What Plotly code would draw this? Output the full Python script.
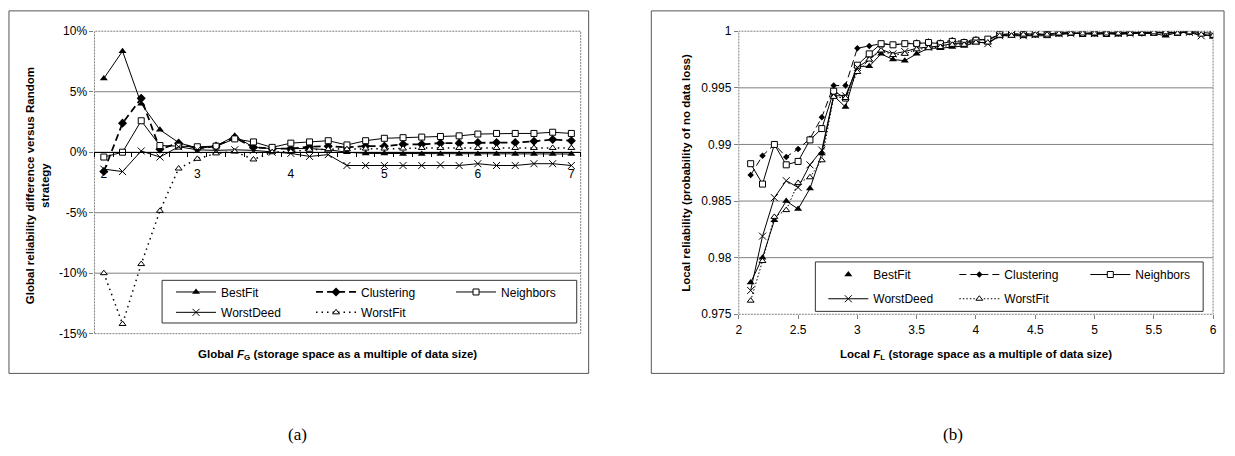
import plotly.graph_objects as go

# ---------------- data ----------------
global_f = [2.0, 2.2, 2.4, 2.6, 2.8, 3.0, 3.2, 3.4, 3.6, 3.8, 4.0, 4.2, 4.4,
            4.6, 4.8, 5.0, 5.2, 5.4, 5.6, 5.8, 6.0, 6.2, 6.4, 6.6, 6.8, 7.0]
g_bestfit = [6.1, 8.35, 4.0, 1.85, 0.8, 0.3, 0.5, 1.35, 0.4, 0.3, 0.3, 0.3, 0.2,
             0.0, -0.1, -0.1, -0.15, -0.15, -0.15, -0.15, -0.15, -0.15, -0.15, -0.15, -0.15, -0.15]
g_clustering = [-1.6, 2.4, 4.45, 0.25, 0.75, 0.3, 0.5, 1.2, 0.4, 0.3, 0.3, 0.45, 0.5,
                0.4, 0.5, 0.5, 0.65, 0.65, 0.75, 0.75, 0.8, 0.8, 0.8, 0.9, 1.05, 0.95]
g_neighbors = [-0.4, 0.0, 2.6, 0.55, 0.5, 0.45, 0.5, 1.1, 0.85, 0.4, 0.75, 0.85, 0.95,
               0.6, 0.95, 1.15, 1.2, 1.25, 1.3, 1.35, 1.5, 1.55, 1.55, 1.55, 1.65, 1.55]
g_worstdeed = [-1.4, -1.6, 0.1, -0.4, 0.45, 0.2, 0.15, 0.2, 0.15, 0.0, -0.1, -0.35, -0.2,
               -1.1, -1.1, -1.1, -1.1, -1.1, -1.05, -1.1, -0.95, -1.1, -1.1, -0.95, -0.95, -1.1]
g_worstfit = [-10.0, -14.2, -9.25, -4.85, -1.35, -0.55, -0.1, 0.05, -0.6, 0.0, 0.05, 0.2, 0.25,
              0.25, 0.3, 0.3, 0.3, 0.35, 0.35, 0.35, 0.35, 0.35, 0.35, 0.35, 0.35, 0.35]
g_yticks = [-15, -10, -5, 0, 5, 10]
g_yticklabels = ["-15%", "-10%", "-5%", "0%", "5%", "10%"]
g_xticks = [2, 3, 4, 5, 6, 7]
g_xticklabels = ["2", "3", "4", "5", "6", "7"]

local_f = [2.1, 2.2, 2.3, 2.4, 2.5, 2.6, 2.7, 2.8, 2.9, 3.0,
           3.1, 3.2, 3.3, 3.4, 3.5, 3.6, 3.7, 3.8, 3.9, 4.0,
           4.1, 4.2, 4.3, 4.4, 4.5, 4.6, 4.7, 4.8, 4.9, 5.0,
           5.1, 5.2, 5.3, 5.4, 5.5, 5.6, 5.7, 5.8, 5.9, 6.0]
l_bestfit = [0.9778, 0.9800, 0.9833, 0.9850, 0.9843, 0.9861, 0.9892, 0.9943, 0.9933, 0.9969,
             0.9969, 0.9980, 0.9975, 0.9974, 0.9980, 0.9985, 0.9985, 0.9986, 0.9987, 0.9990,
             0.9990, 0.9996, 0.9996, 0.9996, 0.9996, 0.9996, 0.9997, 0.9998, 0.9998, 0.9997,
             0.9998, 0.9997, 0.9998, 0.9998, 0.9998, 0.9996, 0.9999, 0.9999, 0.9998, 0.9995]
l_clustering = [0.9873, 0.9890, 0.9900, 0.9889, 0.9896, 0.9905, 0.9924, 0.9952, 0.9952, 0.9985,
                0.9987, 0.9989, 0.9988, 0.9989, 0.9990, 0.9991, 0.9990, 0.9992, 0.9991, 0.9993,
                0.9992, 0.9997, 0.9997, 0.9998, 0.9997, 0.9998, 0.9998, 0.9999, 0.9998, 0.9998,
                0.9999, 0.9998, 0.9999, 0.9998, 0.9999, 0.9999, 0.9999, 0.9999, 0.9999, 0.9997]
l_neighbors = [0.9883, 0.9865, 0.9900, 0.9882, 0.9885, 0.9904, 0.9914, 0.9947, 0.9941, 0.9970,
               0.9980, 0.9989, 0.9988, 0.9989, 0.9989, 0.9990, 0.9989, 0.9991, 0.9990, 0.9992,
               0.9993, 0.9997, 0.9998, 0.9997, 0.9998, 0.9997, 0.9999, 0.9999, 0.9998, 0.9999,
               0.9998, 0.9999, 0.9999, 0.9999, 0.9999, 0.9999, 0.9999, 1.0000, 0.9999, 0.9998]
l_worstdeed = [0.9771, 0.9819, 0.9853, 0.9868, 0.9862, 0.9882, 0.9895, 0.9943, 0.9943, 0.9968,
               0.9975, 0.9984, 0.9980, 0.9982, 0.9985, 0.9986, 0.9987, 0.9989, 0.9989, 0.9991,
               0.9989, 0.9996, 0.9997, 0.9996, 0.9997, 0.9997, 0.9998, 0.9998, 0.9998, 0.9998,
               0.9998, 0.9998, 0.9998, 0.9999, 0.9999, 0.9998, 0.9999, 0.9999, 0.9996, 0.9997]
l_worstfit = [0.9762, 0.9797, 0.9836, 0.9842, 0.9866, 0.9871, 0.9886, 0.9942, 0.9941, 0.9964,
              0.9975, 0.9983, 0.9979, 0.9980, 0.9984, 0.9985, 0.9986, 0.9988, 0.9988, 0.9990,
              0.9990, 0.9996, 0.9996, 0.9997, 0.9997, 0.9997, 0.9998, 0.9998, 0.9998, 0.9998,
              0.9998, 0.9998, 0.9998, 0.9998, 0.9999, 0.9999, 0.9998, 0.9999, 0.9997, 0.9996]
l_yticks = [0.975, 0.98, 0.985, 0.99, 0.995, 1.0]
l_yticklabels = ["0.975", "0.98", "0.985", "0.99", "0.995", "1"]
l_xticks = [2, 2.5, 3, 3.5, 4, 4.5, 5, 5.5, 6]
l_xticklabels = ["2", "2.5", "3", "3.5", "4", "4.5", "5", "5.5", "6"]

# ---------------- layout helpers ----------------
W, H = 1235, 456
def fx(p):
    return p / W
def fy(p):
    return 1 - p / H

FONT = "Liberation Sans, Arial, sans-serif"
BLACK = "black"
GRID = "#808080"

fig = go.Figure()

left_styles = {
    "BestFit": dict(line=dict(color=BLACK, width=1),
                    marker=dict(symbol="triangle-up", size=7, color=BLACK)),
    "Clustering": dict(line=dict(color=BLACK, width=1.8, dash="7px,4px"),
                       marker=dict(symbol="diamond", size=7, color=BLACK)),
    "Neighbors": dict(line=dict(color=BLACK, width=1),
                      marker=dict(symbol="square", size=6, color="white",
                                  line=dict(color=BLACK, width=1))),
    "WorstDeed": dict(line=dict(color=BLACK, width=1),
                      marker=dict(symbol="x-thin", size=7, color=BLACK,
                                  line=dict(color=BLACK, width=1))),
    "WorstFit": dict(line=dict(color=BLACK, width=1.5, dash="1.5px,4px"),
                     marker=dict(symbol="triangle-up", size=6, color="white",
                                 line=dict(color=BLACK, width=1))),
}
right_styles = {
    "BestFit": dict(line=dict(color=BLACK, width=1),
                    marker=dict(symbol="triangle-up", size=7, color=BLACK)),
    "Clustering": dict(line=dict(color=BLACK, width=1, dash="7px,4px"),
                       marker=dict(symbol="diamond", size=5, color=BLACK)),
    "Neighbors": dict(line=dict(color=BLACK, width=1),
                      marker=dict(symbol="square", size=6, color="white",
                                  line=dict(color=BLACK, width=1))),
    "WorstDeed": dict(line=dict(color=BLACK, width=1),
                      marker=dict(symbol="x-thin", size=7, color=BLACK,
                                  line=dict(color=BLACK, width=1))),
    "WorstFit": dict(line=dict(color=BLACK, width=1, dash="1.5px,2px"),
                     marker=dict(symbol="triangle-up", size=6, color="white",
                                 line=dict(color=BLACK, width=1))),
}

left_series = [("BestFit", g_bestfit, "legend"), ("Clustering", g_clustering, "legend"),
               ("Neighbors", g_neighbors, "legend"), ("WorstDeed", g_worstdeed, "legend2"),
               ("WorstFit", g_worstfit, "legend2")]
right_series = [("BestFit", l_bestfit, "legend3"), ("Clustering", l_clustering, "legend3"),
                ("Neighbors", l_neighbors, "legend3"), ("WorstDeed", l_worstdeed, "legend4"),
                ("WorstFit", l_worstfit, "legend4")]

for name, vals, lg in left_series:
    st = left_styles[name]
    fig.add_trace(go.Scatter(x=global_f, y=vals, name=name, mode="lines+markers",
                             line=st["line"], marker=st["marker"], legend=lg,
                             xaxis="x", yaxis="y"))

for name, vals, lg in right_series:
    st = right_styles[name]
    if name == "BestFit":
        fig.add_trace(go.Scatter(x=local_f, y=vals, name=name, mode="lines+markers",
                                 line=st["line"], marker=st["marker"], showlegend=False,
                                 xaxis="x2", yaxis="y2"))
        fig.add_trace(go.Scatter(x=[None], y=[None], name=name, mode="markers",
                                 marker=st["marker"], legend=lg, xaxis="x2", yaxis="y2"))
    else:
        fig.add_trace(go.Scatter(x=local_f, y=vals, name=name, mode="lines+markers",
                                 line=st["line"], marker=st["marker"], legend=lg,
                                 xaxis="x2", yaxis="y2"))

# plot area geometry (pixels)
L = dict(x0=92, x1=581, y0=25, y1=337)
R = dict(x0=740, x1=1217, y0=25, y1=317)
zero_pos = fy(L["y0"] + (L["y1"] - L["y0"]) * (10 / 25))

tickfont = dict(family=FONT, size=12, color=BLACK)

fig.update_layout(
    width=W, height=H,
    margin=dict(l=0, r=0, t=0, b=0),
    paper_bgcolor="white", plot_bgcolor="white",
    font=dict(family=FONT, size=12, color=BLACK),
    xaxis=dict(domain=[fx(L["x0"]), fx(L["x1"])], range=[1.9, 7.1],
               anchor="free", position=zero_pos,
               tickvals=g_xticks, ticktext=g_xticklabels, tickfont=tickfont,
               ticks="", ticklabelstandoff=10,
               minor=dict(ticks="outside", ticklen=4, tick0=1.9, dtick=0.2,
                          tickcolor=BLACK, showgrid=False),
               showline=True, linecolor=BLACK, linewidth=1,
               showgrid=False, zeroline=False),
    yaxis=dict(domain=[fy(L["y1"]), fy(L["y0"])], range=[-15, 10], anchor="x",
               tickvals=g_yticks, ticktext=g_yticklabels, tickfont=tickfont,
               ticks="outside", ticklen=4, tickcolor=GRID,
               showgrid=False, zeroline=False, showline=False),
    xaxis2=dict(domain=[fx(R["x0"]), fx(R["x1"])], range=[2, 6], anchor="y2",
                tickvals=l_xticks, ticktext=l_xticklabels, tickfont=tickfont,
                ticks="outside", ticklen=4, tickcolor=GRID,
                showgrid=False, zeroline=False, showline=False),
    yaxis2=dict(domain=[fy(R["y1"]), fy(R["y0"])], range=[0.975, 1.0], anchor="x2",
                tickvals=l_yticks, ticktext=l_yticklabels, tickfont=tickfont,
                ticks="outside", ticklen=4, tickcolor=GRID,
                showgrid=False, zeroline=False, showline=False),
    showlegend=True,
)

legend_common = dict(orientation="h", xanchor="left", yanchor="middle",
                     bgcolor="rgba(0,0,0,0)", borderwidth=0, itemwidth=40,
                     entrywidthmode="pixels", font=dict(family=FONT, size=12, color=BLACK),
                     itemclick=False, itemdoubleclick=False, traceorder="normal")
fig.update_layout(
    legend=dict(legend_common, x=fx(169), y=fy(294), entrywidth=85),
    legend2=dict(legend_common, x=fx(169), y=fy(315), entrywidth=85),
    legend3=dict(legend_common, x=fx(825), y=fy(276), entrywidth=76),
    legend4=dict(legend_common, x=fx(825), y=fy(301), entrywidth=76),
)

shapes = []
# outer frames
for (a, b, c, d) in [(6, 4, 589, 378), (652, 4, 1228, 378)]:
    shapes.append(dict(type="rect", xref="paper", yref="paper",
                       x0=fx(a), x1=fx(c), y0=fy(d), y1=fy(b),
                       line=dict(color="#555555", width=1), layer="below"))
# interior gridlines
for t in g_yticks[1:-1]:
    shapes.append(dict(type="line", xref="x domain", yref="y", x0=0, x1=1, y0=t, y1=t,
                       line=dict(color=GRID, width=1), layer="below"))
for t in l_yticks[1:-1]:
    shapes.append(dict(type="line", xref="x2 domain", yref="y2", x0=0, x1=1, y0=t, y1=t,
                       line=dict(color=GRID, width=1), layer="below"))
# plot area borders (dotted)
shapes.append(dict(type="rect", xref="x domain", yref="y domain", x0=0, x1=1, y0=0, y1=1,
                   line=dict(color=GRID, width=1, dash="2px,1px"), layer="below"))
shapes.append(dict(type="rect", xref="x2 domain", yref="y2 domain", x0=0, x1=1, y0=0, y1=1,
                   line=dict(color=GRID, width=1, dash="2px,1px"), layer="below"))
# legend boxes
shapes.append(dict(type="rect", xref="paper", yref="paper",
                   x0=fx(160), x1=fx(577), y0=fy(326), y1=fy(282),
                   line=dict(color="#333333", width=1), fillcolor="white", layer="below"))
shapes.append(dict(type="rect", xref="paper", yref="paper",
                   x0=fx(817), x1=fx(1207), y0=fy(314), y1=fy(263),
                   line=dict(color="#333333", width=1), fillcolor="white", layer="below"))
fig.update_layout(shapes=shapes)

title_font = dict(family=FONT, size=11.5, color=BLACK)
serif = dict(family="Liberation Serif, Times New Roman, serif", size=17, color=BLACK)
ann_common = dict(xref="paper", yref="paper", showarrow=False,
                  xanchor="center", yanchor="middle")
annotations = [
    dict(ann_common, text="<b>Global reliability difference versus Random<br>strategy</b>",
         textangle=-90, x=fx(35), y=fy(184), font=title_font, align="center"),
    dict(ann_common,
         text="<b>Global <i>F</i><sub>G</sub> (storage space as a multiple of data size)</b>",
         x=fx((L["x0"] + L["x1"]) / 2), y=fy(359), font=title_font),
    dict(ann_common, text="<b>Local reliability (probability of no data loss)</b>",
         textangle=-90, x=fx(687), y=fy((R["y0"] + R["y1"]) / 2), font=title_font),
    dict(ann_common,
         text="<b>Local <i>F</i><sub>L</sub> (storage space as a multiple of data size)</b>",
         x=fx((R["x0"] + R["x1"]) / 2), y=fy(359), font=title_font),
    dict(ann_common, text="(a)", x=fx(296), y=fy(441), font=serif),
    dict(ann_common, text="(b)", x=fx(955), y=fy(441), font=serif),
]
fig.update_layout(annotations=annotations)

fig.write_html("out.html",
               config={"displayModeBar": False},
               post_script="document.body.style.margin='0';"
                           "document.body.style.overflow='hidden';")
